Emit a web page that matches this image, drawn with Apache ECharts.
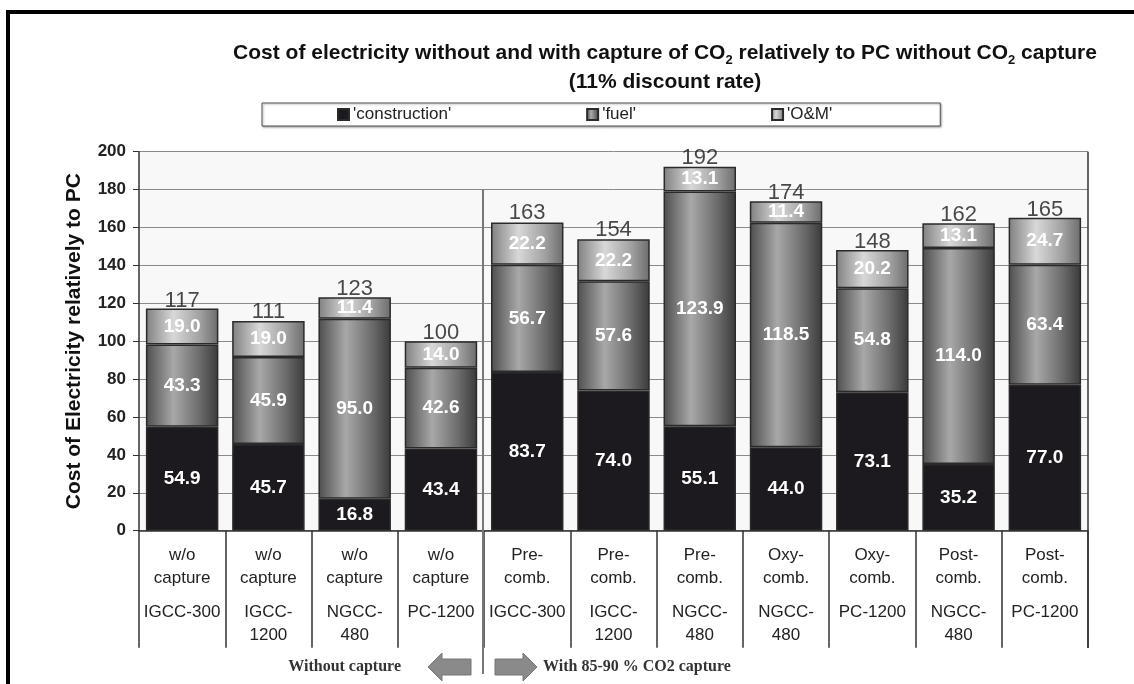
<!DOCTYPE html>
<html>
<head>
<meta charset="utf-8">
<script src="https://cdn.jsdelivr.net/npm/echarts@6/dist/echarts.min.js"></script>
<style>
html,body{margin:0;padding:0;background:#fff;}
#frame{position:absolute;left:6px;top:10px;width:1134px;height:690px;border-top:4px solid #000;border-left:4px solid #000;box-sizing:border-box;}
#chart{position:absolute;left:0;top:0;width:1134px;height:684px;}
</style>
</head>
<body>
<div id="frame"></div>
<div id="chart"></div>
<script>
const typeLabels = ['w/o\ncapture','w/o\ncapture','w/o\ncapture','w/o\ncapture','Pre-\ncomb.','Pre-\ncomb.','Pre-\ncomb.','Oxy-\ncomb.','Oxy-\ncomb.','Post-\ncomb.','Post-\ncomb.'];
const plantLabels = ['IGCC-300','IGCC-\n1200','NGCC-\n480','PC-1200','IGCC-300','IGCC-\n1200','NGCC-\n480','NGCC-\n480','PC-1200','NGCC-\n480','PC-1200'];
const construction = [54.9, 45.7, 16.8, 43.4, 83.7, 74.0, 55.1, 44.0, 73.1, 35.2, 77.0];
const fuel = [43.3, 45.9, 95.0, 42.6, 56.7, 57.6, 123.9, 118.5, 54.8, 114.0, 63.4];
const om = [19.0, 19.0, 11.4, 14.0, 22.2, 22.2, 13.1, 11.4, 20.2, 13.1, 24.7];
const totals = [117, 111, 123, 100, 163, 154, 192, 174, 148, 162, 165];
const yTicks = [0, 20, 40, 60, 80, 100, 120, 140, 160, 180, 200];
const seriesNames = ["'construction'", "'fuel'", "'O&M'"];
const groupNames = ['Without capture', 'With 85-90 % CO2 capture'];

const chart = echarts.init(document.getElementById('chart'));
const cats = typeLabels.map((t, i) => String(i));
const font = 'Liberation Sans, Arial, sans-serif';

function grad(stops) {
  return new echarts.graphic.LinearGradient(0, 0, 1, 0, stops.map(c => ({offset: c[0], color: c[1]})));
}
const innerLabel = {
  show: true, position: 'inside', color: '#ffffff', fontFamily: font,
  fontWeight: 'bold', fontSize: 19, formatter: p => p.value.toFixed(1)
};

const option = {
  animation: false,
  backgroundColor: 'transparent',
  title: [
    {
      text: 'Cost of electricity without and with capture of CO{s|2} relatively to PC without CO{s|2} capture',
      left: 660, top: 35, textAlign: 'center',
      textStyle: {
        fontFamily: font, fontWeight: 'bold', fontSize: 21, color: '#111',
        rich: {s: {fontFamily: font, fontWeight: 'bold', fontSize: 13, color: '#111', padding: [14, 0, 0, 0]}}
      }
    },
    {
      text: '(11% discount rate)', left: 660, top: 67, textAlign: 'center',
      textStyle: {fontFamily: font, fontWeight: 'bold', fontSize: 21, color: '#111'}
    }
  ],
  legend: {
    data: seriesNames,
    left: 262, top: 103,
    padding: [3, 108, 3, 75],
    itemGap: 135,
    itemWidth: 11, itemHeight: 11,
    icon: 'rect',
    borderColor: '#555', borderWidth: 1,
    backgroundColor: '#fff',
    shadowColor: 'rgba(0,0,0,0.35)', shadowBlur: 2, shadowOffsetX: 1, shadowOffsetY: 1,
    textStyle: {fontFamily: font, fontSize: 17, color: '#222', padding: [0, 0, 0, -1]},
    selectedMode: false
  },
  grid: {
    left: 139, right: 46, top: 151.7, bottom: 153.3,
    show: true, backgroundColor: '#f8f8f8', borderColor: '#444', borderWidth: 0
  },
  xAxis: {
    type: 'category', data: cats,
    axisLine: {show: true, lineStyle: {color: '#333', width: 1.5}},
    axisTick: {show: true, interval: 0, length: 117, lineStyle: {color: '#333', width: 1.5}},
    axisLabel: {
      interval: 0, margin: 13, fontFamily: font, color: '#222', fontSize: 17,
      formatter: (v) => {
        const idx = Number(v);
        const a = typeLabels[idx].split('\n').map(s => '{a|' + s + '}').join('\n');
        const b = plantLabels[idx].split('\n').map(s => '{b|' + s + '}').join('\n');
        return a + '\n{g| }\n' + b;
      },
      rich: {
        a: {fontFamily: font, fontSize: 17, color: '#222', lineHeight: 23},
        b: {fontFamily: font, fontSize: 17, color: '#222', lineHeight: 23},
        g: {fontSize: 1, lineHeight: 11}
      }
    },
    splitLine: {show: false}
  },
  yAxis: {
    type: 'value', min: 0, max: 200, interval: 20,
    name: 'Cost of Electricity relatively to PC',
    nameLocation: 'middle', nameGap: 54, nameRotate: 90,
    nameTextStyle: {fontFamily: font, fontWeight: 'bold', fontSize: 21, color: '#111'},
    axisLine: {show: true, lineStyle: {color: '#333', width: 1.5}},
    axisTick: {show: true, inside: false, length: 6, lineStyle: {color: '#333', width: 1}},
    axisLabel: {
      fontFamily: font, fontWeight: 'bold', fontSize: 17, color: '#222', margin: 13,
      formatter: v => (yTicks.indexOf(v) >= 0 ? String(v) : '')
    },
    splitLine: {show: true, lineStyle: {color: '#8a8a8a', width: 1}}
  },
  series: [
    {
      name: seriesNames[0], type: 'bar', stack: 'c', data: construction,
      barCategoryGap: '16%',
      itemStyle: {color: '#1c1a1e', borderColor: '#2a2a2a', borderWidth: 1.5},
      label: innerLabel
    },
    {
      name: seriesNames[1], type: 'bar', stack: 'c', data: fuel,
      itemStyle: {
        color: grad([[0, '#4e4e4e'], [0.38, '#a8a8a8'], [0.75, '#6a6a6a'], [1, '#3a3a3a']]),
        borderColor: '#2a2a2a', borderWidth: 1.5
      },
      label: innerLabel
    },
    {
      name: seriesNames[2], type: 'bar', stack: 'c', data: om,
      itemStyle: {
        color: grad([[0, '#808080'], [0.38, '#d8d8d8'], [0.75, '#a0a0a0'], [1, '#6c6c6c']]),
        borderColor: '#2a2a2a', borderWidth: 1.5
      },
      label: innerLabel
    },
    {
      name: 'total', type: 'scatter', data: totals, symbolSize: 1,
      itemStyle: {color: 'rgba(0,0,0,0)'},
      label: {
        show: true, position: 'top', distance: 0, offset: [0, 3], fontFamily: font, fontSize: 22,
        color: '#1a1a1a', formatter: p => String(p.value)
      },
      silent: true, z: 5
    }
  ]
};
chart.setOption(option);

// separator between the two groups, arrows and group captions
const p3 = chart.convertToPixel({xAxisIndex: 0, yAxisIndex: 0}, [3, 180]);
const p4 = chart.convertToPixel({xAxisIndex: 0, yAxisIndex: 0}, [4, 180]);
const sx = Math.round((p3[0] + p4[0]) / 2) - 1;
const sy = p3[1];
const by = 667;
function arrow(x0, x1, dir) {
  const h = 8, H = 14, head = 14;
  let pts;
  if (dir > 0) {
    pts = [[x0, by - h], [x1 - head, by - h], [x1 - head, by - H], [x1, by], [x1 - head, by + H], [x1 - head, by + h], [x0, by + h]];
  } else {
    pts = [[x1, by - h], [x0 + head, by - h], [x0 + head, by - H], [x0, by], [x0 + head, by + H], [x0 + head, by + h], [x1, by + h]];
  }
  return {type: 'polygon', shape: {points: pts}, style: {fill: '#8a8a8a', stroke: '#777', lineWidth: 1}, z: 10};
}
const serif = 'bold 16px "Liberation Serif", "DejaVu Serif", serif';
chart.setOption({
  graphic: [
    {type: 'line', shape: {x1: sx, y1: sy, x2: sx, y2: 674}, style: {stroke: '#777', lineWidth: 2}, z: 10},
    arrow(sx - 55, sx - 12, -1),
    arrow(sx + 12, sx + 54, 1),
    {type: 'text', x: sx - 82, y: by, style: {text: groupNames[0], fill: '#333', font: serif, textAlign: 'right', textVerticalAlign: 'middle'}, z: 10},
    {type: 'text', x: sx + 60, y: by, style: {text: groupNames[1], fill: '#333', font: serif, textAlign: 'left', textVerticalAlign: 'middle'}, z: 10},
    {type: 'line', shape: {x1: 1088, y1: 151.7, x2: 1088, y2: 648}, style: {stroke: '#333', lineWidth: 1.5}, z: 10}
  ]
});
</script>
</body>
</html>
